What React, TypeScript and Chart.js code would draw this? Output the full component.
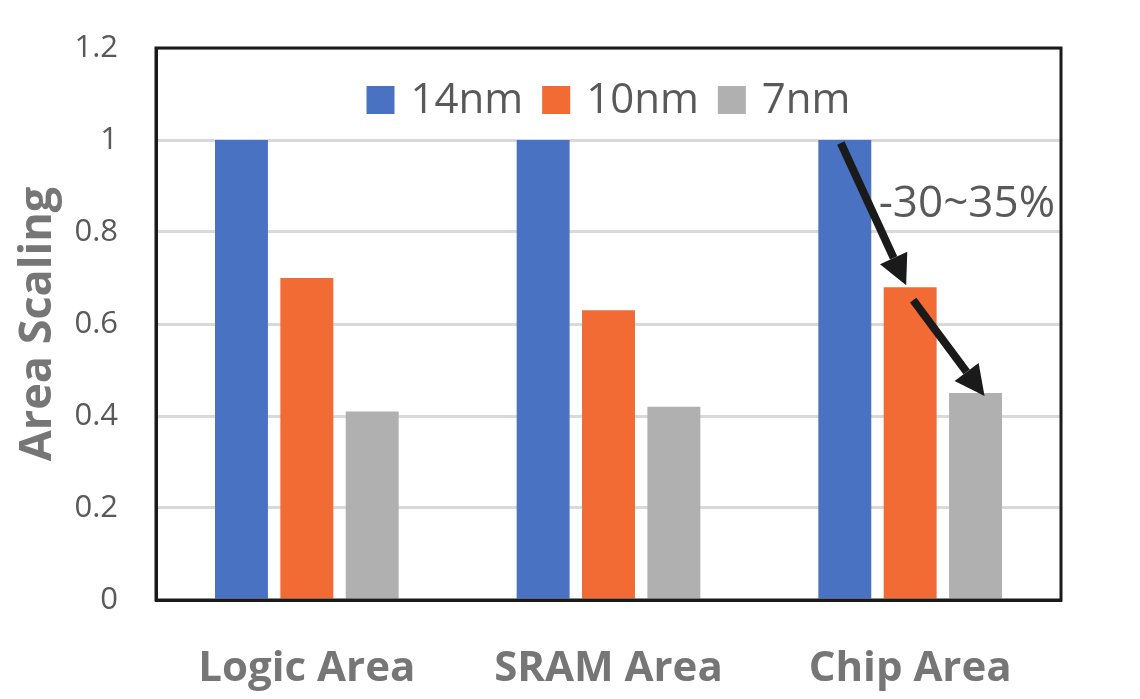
import React, { useRef, useEffect } from 'react'
import { Chart, registerables } from 'chart.js'

Chart.register(...registerables)

const categories = ['Logic Area', 'SRAM Area', 'Chip Area']
const nodes = ['14nm', '10nm', '7nm']
const values14 = [1, 1, 1]
const values10 = [0.7, 0.63, 0.68]
const values7 = [0.41, 0.42, 0.45]
const yTicks = [0, 0.2, 0.4, 0.6, 0.8, 1, 1.2]
const note = '-30~35%'
const colors = ['#4a72c2', '#f26a34', '#b0b0b0']

// frame, legend inside the plot, arrows on the chip group
const framePlugin = {
  id: 'frame',
  afterDatasetsDraw(chart: any) {
    const { ctx, chartArea } = chart
    ctx.save()
    ctx.strokeStyle = '#1a1a1a'
    ctx.lineWidth = 3
    ctx.strokeRect(chartArea.left, chartArea.top, chartArea.right - chartArea.left, chartArea.bottom - chartArea.top)

    // legend
    ctx.font = '42px "Open Sans"'
    ctx.textBaseline = 'middle'
    ctx.textAlign = 'left'
    const box = 28
    const gapBox = 16
    const gapItem = 19
    const items = chart.data.datasets.map((d: any) => ({ label: d.label, color: d.backgroundColor, w: ctx.measureText(d.label).width }))
    const total = items.reduce((s: number, it: any) => s + box + gapBox + it.w, 0) + gapItem * (items.length - 1)
    let lx = (chartArea.left + chartArea.right) / 2 - total / 2
    const ly = chartArea.top + 52
    items.forEach((it: any) => {
      ctx.fillStyle = it.color
      ctx.fillRect(lx, ly - box / 2, box, box)
      ctx.fillStyle = '#595959'
      ctx.fillText(it.label, lx + box + gapBox, ly + 1)
      lx += box + gapBox + it.w + gapItem
    })

    const idx = 2
    const bars = [0, 1, 2].map((d) => chart.getDatasetMeta(d).data[idx])
    const arrow = (x1: number, y1: number, x2: number, y2: number) => {
      const ang = Math.atan2(y2 - y1, x2 - x1)
      const head = 30
      const half = 15
      const bx = x2 - head * Math.cos(ang)
      const by = y2 - head * Math.sin(ang)
      ctx.strokeStyle = '#1a1a1a'
      ctx.fillStyle = '#1a1a1a'
      ctx.lineWidth = 8
      ctx.beginPath()
      ctx.moveTo(x1, y1)
      ctx.lineTo(bx, by)
      ctx.stroke()
      ctx.beginPath()
      ctx.moveTo(x2, y2)
      ctx.lineTo(bx + half * Math.sin(ang), by - half * Math.cos(ang))
      ctx.lineTo(bx - half * Math.sin(ang), by + half * Math.cos(ang))
      ctx.closePath()
      ctx.fill()
    }
    arrow(bars[0].x - 4, bars[0].y + 3, bars[1].x - 4, bars[1].y - 2)
    arrow(bars[1].x + 3, bars[1].y + 13, bars[2].x + 9, bars[2].y + 3)

    const yScale = chart.scales.y
    ctx.fillStyle = '#595959'
    ctx.font = '44px "Open Sans"'
    ctx.textAlign = 'left'
    ctx.textBaseline = 'middle'
    ctx.fillText(note, bars[1].x - bars[1].width / 2 - 5, yScale.getPixelForValue(0.86))
    ctx.restore()
  },
}

export default function App() {
  const chartRef = useRef<HTMLCanvasElement>(null)

  useEffect(() => {
    document.body.style.margin = '0'
    if (!chartRef.current) return
    const series = [values14, values10, values7]
    const chart = new Chart(chartRef.current, {
      type: 'bar',
      data: {
        labels: categories,
        datasets: nodes.map((n, i) => ({
          label: n,
          data: series[i],
          backgroundColor: colors[i],
          categoryPercentage: 0.65,
          barPercentage: 0.81,
        })),
      },
      options: {
        animation: false,
        responsive: true,
        maintainAspectRatio: false,
        layout: { padding: { top: 48, right: 79, left: 0, bottom: 0 } },
        plugins: {
          tooltip: { enabled: false },
          legend: { display: false },
        },
        scales: {
          x: {
            grid: { display: false },
            border: { display: true, color: '#1a1a1a', width: 3 },
            ticks: {
              color: '#767676',
              padding: 36,
              font: { size: 42, family: 'Open Sans', weight: 'bold' },
            },
            afterFit: (s: any) => {
              s.height = 99
              s.paddingLeft = 0
              s.paddingRight = 0
            },
          },
          y: {
            min: 0,
            max: 1.2,
            afterBuildTicks: (s: any) => {
              s.ticks = yTicks.map((v) => ({ value: v }))
            },
            grid: { color: '#d9d9d9', lineWidth: 3, drawTicks: false },
            border: { display: true, color: '#1a1a1a', width: 3 },
            ticks: {
              color: '#595959',
              padding: 38,
              font: { size: 31, family: 'Open Sans' },
              callback: (v: any) => String(v),
            },
            title: {
              display: true,
              text: 'Area Scaling',
              color: '#767676',
              padding: { top: 11, bottom: 0 },
              font: { size: 45, family: 'Open Sans', weight: 'bold' },
            },
            afterFit: (s: any) => {
              s.width = 156
              s.paddingTop = 0
              s.paddingBottom = 0
            },
          },
        },
      },
      plugins: [framePlugin],
    })
    return () => chart.destroy()
  }, [])

  return (
    <div style={{ width: 1140, height: 699, background: '#fff' }}>
      <canvas ref={chartRef}></canvas>
    </div>
  )
}
